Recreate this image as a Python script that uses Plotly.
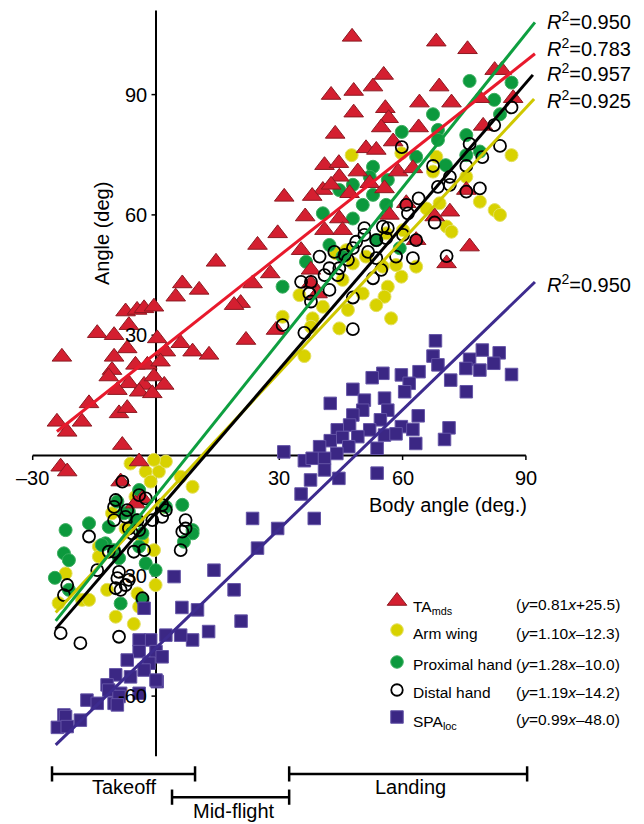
import numpy as np
import plotly.graph_objects as go

# ---------------- data ----------------
ta_x = [47.7, 68.2, 75.8, 55.4, 42.6, 48.1, 52.8, 68.9, 82.4, 84.1, 64.1, 71.9, 78.8, 86.9, 48.1, 55.8, 56.6, 54.8,
        43.6, 63.9, 79.6, 57.7, 51.1, 53.6, 41.0, 44.5, 49.1, 44.6, 58.9, 62.5, 40.6, 42.6, 52.0, 55.6, 75.5, 31.2,
        38.0, 47.1,
        36.3, 44.6, 29.6, 41.0, 45.4, 56.8, 60.9, 67.8, 71.5, 24.7, 35.3, 63.3, 76.3, 27.8, 23.5, 37.7, 37.7, 70.7,
        39.3, 20.6, 21.9, 29.2,
        14.6, 6.4, 4.8, 10.5, 19.0, -7.4, -4.6, -2.9, -0.5, -14.3, -10.2, -6.6, 0.3, 6.0, 8.9, 12.9, -22.9, -10.2,
        -7.0, 2.4, -10.7, -5.0, -2.1, 1.1, -11.5, -6.6, -2.9, -0.5, 2.0, -9.4, -4.1, -0.9, -16.3, -9.0, -7.0, -24.1,
        -18.0, -21.6, -8.2, -4.1, -23.2, -21.6, -8.6, -3.3, -5.0]
ta_y = [104.4, 103.2, 101.3, 94.9, 89.9, 90.9, 92.0, 92.0, 96.1, 96.1, 88.0, 88.0, 89.1, 89.1, 85.5, 86.6, 84.1, 81.8,
        80.2, 81.8, 82.2, 78.3, 76.6, 76.2, 72.4, 72.9, 70.8, 69.5, 70.8, 71.6, 66.2, 67.5, 67.9, 66.6, 66.2, 64.5,
        64.7, 65.4,
        59.6, 59.1, 55.4, 56.2, 56.2, 60.0, 62.9, 59.6, 60.8, 52.5, 51.2, 53.7, 52.1, 45.4, 42.9, 46.3, 42.9, 47.9,
        40.4, 38.0, 28.8, 31.3,
        48.3, 42.9, 39.6, 41.3, 37.5, 35.9, 36.3, 36.7, 37.1, 30.5, 30.0, 32.5, 29.2, 28.0, 25.9, 25.1, 24.6, 24.6,
        26.7, 25.9, 21.3, 22.6, 22.6, 23.4, 19.7, 18.0, 17.6, 19.7, 17.6, 16.3, 15.9, 15.5, 13.0, 10.5, 11.8, 8.4,
        8.4, 5.9, 2.6, -1.5, -2.8, -4.0, -6.5, -10.7, -12.0]

arm_x = [47.6, 86.5, 68.2, 67.4, 75.5, 59.7, 78.8, 82.4, 83.7, 69.0, 70.7, 71.9, 63.3, 59.7, 58.4, 56.4, 55.6, 53.6,
         57.2, 46.7, 50.3, 44.6, 38.1, 40.6, 30.8, 34.9, 45.4, 43.8, 55.2, 51.1, 56.0, 60.1, 65.8, 37.7, 46.3, 47.9,
         36.1,
         -6.2, -2.5, 0.7, -1.3, 2.4, 6.0, 8.9, -0.5, -5.0, -22.0, -13.9, -18.0, -16.3, -11.9, -9.8, -5.4, -4.1, -4.5,
         -0.1, -0.5, -3.3, 2.0, -10.7, -7.4, -13.9, -23.7]
arm_y = [74.9, 74.9, 74.5, 70.8, 69.5, 75.4, 63.3, 61.2, 60.0, 62.9, 57.1, 55.8, 47.1, 44.6, 47.5, 42.1, 39.6, 37.5,
         34.2, 36.3, 40.4, 31.7, 34.2, 37.1, 34.6, 40.0, 43.8, 50.4, 47.1, 49.6, 55.4, 56.2, 61.6, 32.1, 51.2, 47.9,
         24.8,
         -2.0, -4.0, -4.0, -6.5, -1.5, -5.3, -7.8, -1.1, -10.3, -29.4, -22.7, -36.0, -36.0, -33.5, -40.2, -42.0, -37.7,
         -34.4, -32.3, -23.6, -21.1, -12.8, -14.4, -18.2, -25.2, -36.8]

prox_x = [76.3, 86.5, 82.3, 67.4, 83.7, 59.8, 68.6, 75.5, 68.6, 63.3, 70.5, 52.8, 47.9, 44.6, 52.0, 56.4, 78.8, 75.5,
          52.8, 50.3, 40.6, 47.9, 56.0, 42.2, 36.5, 30.8, 53.6, 59.3, 45.4,
          -9.4, -22.0, -16.3, -11.5, 6.4, 8.9, -6.6, -4.1, -22.4, -21.2, -12.3, -10.2, -9.0, -5.0, -3.3, -4.1, -2.5,
          -0.1, -3.3, -8.6, 8.9, 6.8, -7.8, 2.4, -24.6, -21.2, -13.2]
prox_y = [93.4, 93.0, 88.7, 85.1, 85.1, 80.7, 81.2, 79.9, 78.7, 74.5, 72.4, 72.0, 67.5, 66.2, 69.5, 68.7, 75.8, 74.9,
          65.0, 62.5, 60.4, 59.1, 62.5, 52.5, 48.3, 42.1, 53.7, 51.7, 49.6,
          -11.5, -18.6, -16.9, -17.8, -12.3, -18.6, -14.0, -8.6, -24.4, -26.1, -21.9, -23.6, -25.6, -16.1, -19.4,
          -22.7, -26.9, -28.6, -36.0, -36.9, -19.4, -21.5, -14.4, -12.8, -30.5, -33.5, -22.3]

dist_x = [86.5, 82.3, 76.3, 83.7, 79.4, 75.5, 67.4, 59.8, 71.5, 71.5, 68.6, 78.8, 75.5, 63.9, 60.9, 61.3, 67.8, 63.3,
          70.7, 55.2, 56.4, 50.7, 50.7, 53.6, 56.0, 60.1, 48.7, 47.9, 45.9, 51.6, 53.6, 58.4, 62.5, 43.4, 39.8, 46.7,
          42.2, 44.6, 41.0, 44.2, 54.8, 52.8, 35.3, 37.7, 37.3, 42.2, 37.7, 47.9, 30.8, 36.1, 47.9,
          -8.2, -4.1, -2.5, -9.8, -7.0, 1.5, 2.4, -10.2, -7.4, -4.5, -0.9, 1.5, -16.3, 7.2, 7.2, -4.1, -6.6, -11.5,
          -10.2, -14.3, -21.6, -22.4, -23.2, -18.4, -9.0, -9.4, -9.8, -8.6, -7.4, -6.6, -9.0, -5.8, -2.9, -5.4, -3.3,
          6.0, 6.4, -10.2]
dist_y = [86.8, 82.4, 77.7, 77.2, 74.4, 72.2, 72.2, 76.9, 69.5, 67.5, 67.0, 66.6, 65.8, 64.1, 62.5, 60.4, 58.1, 53.7,
          49.7, 57.1, 56.7, 56.7, 55.0, 53.7, 54.2, 55.0, 53.3, 51.7, 50.0, 50.8, 49.2, 49.6, 49.2, 50.8, 49.6, 48.8,
          46.7, 46.7, 45.0, 45.0, 46.3, 44.2, 43.3, 43.3, 40.4, 41.3, 38.4, 39.4, 32.5, 30.6, 31.5,
          -6.5, -9.9, -10.7, -11.1, -13.6, -12.3, -13.6, -16.1, -15.3, -16.1, -16.1, -15.3, -20.2, -16.1, -18.2, -18.6,
          -18.2, -24.0, -24.0, -28.6, -32.3, -34.8, -44.3, -46.8, -45.2, -30.6, -33.1, -33.5, -32.3, -31.0, -29.0,
          -19.4, -23.6, -24.0, -35.6, -23.6, -19.0, -12.8]

spa_x = [68.0, 67.4, 68.6, 79.4, 83.5, 76.3, 82.2, 75.4, 78.8, 86.5, 64.0, 59.7, 55.2, 52.6, 61.6, 60.5, 71.7, 75.5,
         47.9, 50.7, 55.6, 42.4, 50.3, 56.4, 47.9, 63.8, 54.6, 47.1, 44.1, 52.0, 59.7, 62.5, 71.3, 70.2, 63.2, 55.6,
         58.4, 45.4, 49.1, 42.4, 39.8, 46.9, 44.0, 53.8, 31.1, 36.1, 38.0, 41.0, 41.0, 37.6, 44.5, 53.8, 35.3, 38.5,
         29.6, 23.5, 24.7, 14.1, 20.7, 4.4, 19.0, 6.3, 10.1, -2.9, 12.8, 8.9, 6.0, 2.4, -1.3, -4.1, -4.1, 0.0, 1.5,
         -7.0, -1.7, 0.3, -9.8, -6.2, -2.9, -11.9, -8.6, -10.2, -16.8, -14.3, -22.4, -4.1, -18.4, -22.0, -24.0, -21.6,
         -11.5, -9.0, -9.4, 0.0]
spa_y = [28.6, 24.8, 22.6, 26.3, 25.6, 24.0, 23.0, 21.7, 21.3, 20.2, 20.9, 20.1, 20.5, 19.4, 18.0, 15.9, 18.8, 15.9,
         16.5, 13.8, 14.3, 13.0, 11.3, 11.3, 10.1, 9.9, 8.9, 7.6, 6.4, 6.4, 7.2, 6.5, 6.9, 4.0, 3.0, 5.1,
         5.4, 4.5, 4.7, 3.7, 2.2, 2.2, 0.5, 1.8, 0.9, -1.3, -0.7, -0.7, -3.6, -6.1, -5.7, -4.4, -9.6, -15.7,
         -18.2, -15.7, -23.1, -28.6, -41.3, -30.2, -33.5, -37.9, -38.5, -38.1, -43.9, -46.0, -44.8, -44.8, -46.0,
         -46.0, -48.9, -48.9, -50.2, -51.0, -51.8, -56.4, -54.7, -55.2, -53.5, -57.2, -59.3, -61.8, -61.0, -61.8,
         -64.7, -59.3, -66.0, -65.1, -67.8, -67.6, -58.5, -60.1, -62.2, -56.0]

series_names = ["TA<sub>mds</sub>", "Arm wing", "Proximal hand", "Distal hand", "SPA<sub>loc</sub>"]
slopes = [0.81, 1.10, 1.28, 1.19, 0.99]
intercepts = [25.5, -12.3, -10.0, -14.2, -48.0]
eq_texts = ["(<i>y</i>=0.81<i>x</i>+25.5)", "(<i>y</i>=1.10<i>x</i>–12.3)", "(<i>y</i>=1.28<i>x</i>–10.0)",
            "(<i>y</i>=1.19<i>x</i>–14.2)", "(<i>y</i>=0.99<i>x</i>–48.0)"]
r2_texts = ["0.783", "0.925", "0.950", "0.957", "0.950"]
fit_x0 = [-24.1, -24.4, -24.4, -24.4, -24.4]
fit_x1 = [92.2, 92.0, 92.2, 91.7, 92.2]

x_ticks = [-30, 30, 60, 90]
x_tick_labels = ["–30", "30", "60", "90"]
y_ticks = [90, 60, 30, -30, -60]
y_tick_labels = ["90", "60", "30", "-30", "-60"]

phases = ["Takeoff", "Mid-flight", "Landing"]
phase_x0 = [-25.3, 3.9, 32.4]
phase_x1 = [9.5, 32.4, 90.3]

# ---------------- styling / layout ----------------
# The page body has an 8px margin, so the figure starts at screen (8, 8).
OFF = 8
W, H = 644 - OFF, 824 - OFF
PX0, SX = 156.0, 4.11     # screen pixel of x=0, px per unit
PY0, SY = 455.5, 4.01     # screen pixel of y=0, px per unit
xr = [(OFF - PX0) / SX, (644 - PX0) / SX]
yr = [(PY0 - 824) / SY, (PY0 - OFF) / SY]

FONT = "Liberation Sans, Arial, Helvetica, sans-serif"
line_colors = ["#e8192c", "#cfc800", "#0e9f40", "#000000", "#3d2b8e"]

fig = go.Figure()

# scatter markers
fig.add_trace(go.Scatter(x=arm_x, y=arm_y, mode="markers", showlegend=False,
                         marker=dict(symbol="circle", size=13, color="#d8d200",
                                     line=dict(color="#e4e060", width=1))))
fig.add_trace(go.Scatter(x=prox_x, y=prox_y, mode="markers", showlegend=False,
                         marker=dict(symbol="circle", size=13, color="#0c993d",
                                     line=dict(color="#3aae5e", width=1))))
fig.add_trace(go.Scatter(x=ta_x, y=ta_y, mode="markers", showlegend=False,
                         marker=dict(symbol="triangle-up", size=17, color="#d41f30",
                                     line=dict(color="#8c1a22", width=1))))
fig.add_trace(go.Scatter(x=dist_x, y=dist_y, mode="markers", showlegend=False,
                         marker=dict(symbol="circle-open", size=12, color="#000000",
                                     line=dict(color="#000000", width=1.8))))
fig.add_trace(go.Scatter(x=spa_x, y=spa_y, mode="markers", showlegend=False,
                         marker=dict(symbol="square", size=12.5, color="#3b2784",
                                     line=dict(color="#6454a6", width=1))))

# regression lines
for i in [1, 3, 2, 0, 4]:
    lx = np.array([fit_x0[i], fit_x1[i]])
    fig.add_trace(go.Scatter(x=lx, y=slopes[i] * lx + intercepts[i], mode="lines", showlegend=False,
                             line=dict(color=line_colors[i], width=3)))

shapes = []
# axes
shapes.append(dict(type="line", xref="x", yref="y", x0=-30, x1=90, y0=0, y1=0,
                   line=dict(color="black", width=2), layer="below"))
shapes.append(dict(type="line", xref="x", yref="y", x0=0, x1=0, y0=-75, y1=111,
                   line=dict(color="black", width=2), layer="below"))
for t in x_ticks:
    shapes.append(dict(type="line", xref="x", yref="y", x0=t, x1=t, y0=0, y1=-4.5 / SY,
                       line=dict(color="black", width=1.5), layer="below"))
for t in y_ticks:
    shapes.append(dict(type="line", xref="x", yref="y", x0=0, x1=-4.5 / SX, y0=t, y1=t,
                       line=dict(color="black", width=1.5), layer="below"))

# phase brackets
br_y = [-79.4, -85.2, -79.4]
cap = 1.9
for x0, x1, yb in zip(phase_x0, phase_x1, br_y):
    shapes.append(dict(type="line", xref="x", yref="y", x0=x0, x1=x1, y0=yb, y1=yb,
                       line=dict(color="black", width=2.5)))
    for xe in (x0, x1):
        shapes.append(dict(type="line", xref="x", yref="y", x0=xe, x1=xe, y0=yb - cap, y1=yb + cap,
                           line=dict(color="black", width=2.5)))

def txt(size):
    return dict(size=size, family=FONT, color="black")

ann = []
for t, lab in zip(x_ticks, x_tick_labels):
    ann.append(dict(x=t, y=-5.6, xref="x", yref="y", text=lab, showarrow=False,
                    xanchor="center", yanchor="middle", font=txt(20)))
for t, lab in zip(y_ticks, y_tick_labels):
    ann.append(dict(x=-1.7, y=t, xref="x", yref="y", text=lab, showarrow=False,
                    xanchor="right", yanchor="middle", font=txt(20)))
ann.append(dict(x=448, y=505, xref="x2", yref="y2", text="Body angle (deg.)",
                showarrow=False, xanchor="center", yanchor="middle", font=txt(20)))
ann.append(dict(x=102, y=234, xref="x2", yref="y2", text="Angle (deg)",
                showarrow=False, textangle=-90, xanchor="center", yanchor="middle", font=txt(20)))

# R^2 labels (at right end of each fit line)
r2_py = {2: 20, 0: 47, 3: 72, 1: 99, 4: 283}
for i, py in r2_py.items():
    ann.append(dict(x=545, y=py, xref="x2", yref="y2",
                    text="<i>R</i><sup>2</sup>=" + r2_texts[i], showarrow=False,
                    xanchor="left", yanchor="middle", font=txt(20)))

# phase labels
phase_lab_pos = [(124, 787), (234, 811), (410, 787)]
for name, (px, py) in zip(phases, phase_lab_pos):
    ann.append(dict(x=px, y=py, xref="x2", yref="y2", text=name,
                    showarrow=False, xanchor="center", yanchor="middle", font=txt(20)))

# custom legend (screen-pixel overlay axis)
leg_sym_y = [601, 630, 662, 690, 717]
leg_txt_y = [604, 633, 664, 692, 719]
leg_styles = [
    dict(symbol="triangle-up", size=17, color="#d41f30", line=dict(color="#8c1a22", width=1)),
    dict(symbol="circle", size=12.5, color="#d8d200", line=dict(color="#e4e060", width=1)),
    dict(symbol="circle", size=12.5, color="#0c993d", line=dict(color="#3aae5e", width=1)),
    dict(symbol="circle-open", size=11.5, color="#000000", line=dict(color="#000000", width=1.8)),
    dict(symbol="square", size=12.5, color="#3b2784", line=dict(color="#6454a6", width=1)),
]
for i in range(5):
    fig.add_trace(go.Scatter(x=[397], y=[leg_sym_y[i]], xaxis="x2", yaxis="y2", mode="markers",
                             showlegend=False, hoverinfo="skip", marker=leg_styles[i]))
    ann.append(dict(x=411, y=leg_txt_y[i] + (3 if i in (0, 4) else 0), xref="x2", yref="y2",
                    text=series_names[i], showarrow=False, xanchor="left", yanchor="middle",
                    font=txt(15.5)))
    ann.append(dict(x=622, y=leg_txt_y[i], xref="x2", yref="y2", text=eq_texts[i], showarrow=False,
                    xanchor="right", yanchor="middle", font=txt(15.5)))

fig.update_layout(
    width=W, height=H, autosize=False,
    margin=dict(l=0, r=0, t=0, b=0, pad=0),
    paper_bgcolor="white", plot_bgcolor="white",
    xaxis=dict(range=xr, visible=False, fixedrange=True),
    yaxis=dict(range=yr, visible=False, fixedrange=True),
    xaxis2=dict(range=[OFF, 644], overlaying="x", visible=False, fixedrange=True),
    yaxis2=dict(range=[824, OFF], overlaying="y", visible=False, fixedrange=True),
    shapes=shapes, annotations=ann,
    font=dict(family=FONT, color="black"),
)

fig.write_html("out.html")
